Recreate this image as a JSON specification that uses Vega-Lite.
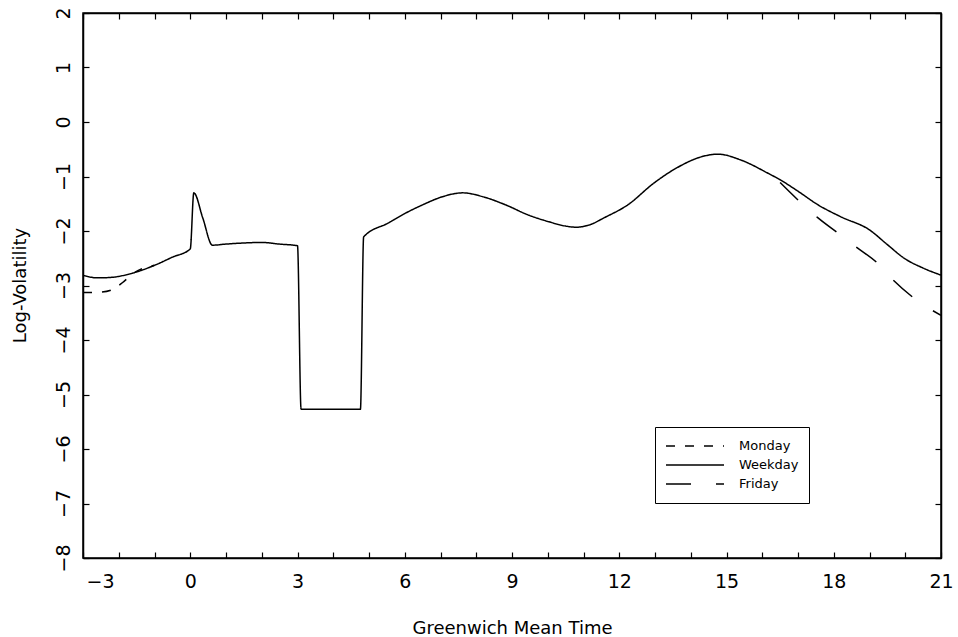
{
  "$schema": "https://vega.github.io/schema/vega-lite/v6.json",
  "width": 858,
  "height": 545,
  "autosize": {"type": "none"},
  "padding": {"left": 83, "top": 13, "right": 17, "bottom": 79},
  "background": "white",
  "config": {
    "view": {"stroke": "black", "strokeWidth": 1.5},
    "font": "DejaVu Sans",
    "axis": {
      "domainColor": "black",
      "domainWidth": 1.5,
      "tickColor": "black",
      "tickWidth": 1.2,
      "tickSize": -6,
      "grid": false,
      "labelColor": "black",
      "labelFont": "DejaVu Sans",
      "labelFontSize": 19,
      "labelOverlap": false,
      "labelFlush": false,
      "titleColor": "black",
      "titleFont": "DejaVu Sans",
      "titleFontSize": 18,
      "titleFontWeight": "normal"
    }
  },
  "data": {
    "values": [
      {"t": -3.0, "v": -2.81, "s": "Weekday"},
      {"t": -2.6, "v": -2.86, "s": "Weekday"},
      {"t": -2.2, "v": -2.85, "s": "Weekday"},
      {"t": -1.6, "v": -2.77, "s": "Weekday"},
      {"t": -1.0, "v": -2.63, "s": "Weekday"},
      {"t": -0.5, "v": -2.48, "s": "Weekday"},
      {"t": 0.0, "v": -2.33, "s": "Weekday"},
      {"t": 0.1, "v": -1.30, "s": "Weekday"},
      {"t": 0.35, "v": -1.76, "s": "Weekday"},
      {"t": 0.62, "v": -2.26, "s": "Weekday"},
      {"t": 1.0, "v": -2.24, "s": "Weekday"},
      {"t": 1.5, "v": -2.22, "s": "Weekday"},
      {"t": 2.0, "v": -2.21, "s": "Weekday"},
      {"t": 2.5, "v": -2.24, "s": "Weekday"},
      {"t": 3.0, "v": -2.27, "s": "Weekday"},
      {"t": 3.1, "v": -5.27, "s": "Weekday"},
      {"t": 4.76, "v": -5.27, "s": "Weekday"},
      {"t": 4.85, "v": -2.11, "s": "Weekday"},
      {"t": 5.55, "v": -1.85, "s": "Weekday"},
      {"t": 6.0, "v": -1.68, "s": "Weekday"},
      {"t": 6.5, "v": -1.52, "s": "Weekday"},
      {"t": 7.06, "v": -1.37, "s": "Weekday"},
      {"t": 7.62, "v": -1.30, "s": "Weekday"},
      {"t": 8.18, "v": -1.37, "s": "Weekday"},
      {"t": 8.82, "v": -1.52, "s": "Weekday"},
      {"t": 9.47, "v": -1.71, "s": "Weekday"},
      {"t": 10.03, "v": -1.83, "s": "Weekday"},
      {"t": 10.5, "v": -1.91, "s": "Weekday"},
      {"t": 10.8, "v": -1.93, "s": "Weekday"},
      {"t": 11.2, "v": -1.88, "s": "Weekday"},
      {"t": 11.57, "v": -1.76, "s": "Weekday"},
      {"t": 12.24, "v": -1.52, "s": "Weekday"},
      {"t": 12.97, "v": -1.12, "s": "Weekday"},
      {"t": 13.64, "v": -0.83, "s": "Weekday"},
      {"t": 14.29, "v": -0.64, "s": "Weekday"},
      {"t": 14.76, "v": -0.59, "s": "Weekday"},
      {"t": 15.41, "v": -0.70, "s": "Weekday"},
      {"t": 16.16, "v": -0.94, "s": "Weekday"},
      {"t": 16.5, "v": -1.06, "s": "Weekday"},
      {"t": 17.0, "v": -1.27, "s": "Weekday"},
      {"t": 17.56, "v": -1.52, "s": "Weekday"},
      {"t": 18.2, "v": -1.74, "s": "Weekday"},
      {"t": 19.0, "v": -1.98, "s": "Weekday"},
      {"t": 19.5, "v": -2.25, "s": "Weekday"},
      {"t": 19.97, "v": -2.50, "s": "Weekday"},
      {"t": 20.5, "v": -2.68, "s": "Weekday"},
      {"t": 21.0, "v": -2.81, "s": "Weekday"},
      {"t": -3.0, "v": -3.13, "s": "Monday"},
      {"t": -2.5, "v": -3.12, "s": "Monday"},
      {"t": -2.2, "v": -3.08, "s": "Monday"},
      {"t": -1.9, "v": -2.95, "s": "Monday"},
      {"t": -1.6, "v": -2.78, "s": "Monday"},
      {"t": -1.0, "v": -2.63, "s": "Monday"},
      {"t": 16.5, "v": -1.11, "s": "Friday"},
      {"t": 17.0, "v": -1.43, "s": "Friday"},
      {"t": 17.56, "v": -1.76, "s": "Friday"},
      {"t": 18.12, "v": -2.04, "s": "Friday"},
      {"t": 18.66, "v": -2.31, "s": "Friday"},
      {"t": 19.19, "v": -2.57, "s": "Friday"},
      {"t": 19.66, "v": -2.90, "s": "Friday"},
      {"t": 20.2, "v": -3.21, "s": "Friday"},
      {"t": 21.0, "v": -3.55, "s": "Friday"}
    ]
  },
  "layer": [
    {
      "mark": {"type": "line", "color": "black", "strokeWidth": 1.5, "interpolate": "monotone", "clip": true},
      "encoding": {
        "x": {
          "field": "t", "type": "quantitative",
          "scale": {"domain": [-3, 21], "nice": false, "zero": false},
          "axis": {
            "orient": "bottom",
            "values": [-3,-2,-1,0,1,2,3,4,5,6,7,8,9,10,11,12,13,14,15,16,17,18,19,20,21],
            "format": "d",
            "labelExpr": "datum.value % 3 === 0 ? datum.label : ''",
            "labelPadding": 20,
            "labelOffset": {"condition": {"test": "datum.value == -3", "value": 17}, "value": 0},
            "title": "Greenwich Mean Time",
            "titleY": 75,
            "titleBaseline": "alphabetic"
          }
        },
        "y": {
          "field": "v", "type": "quantitative",
          "scale": {"domain": [-8, 2], "nice": false, "zero": false},
          "axis": {
            "orient": "left",
            "values": [-8,-7,-6,-5,-4,-3,-2,-1,0,1,2],
            "format": "d",
            "labelAngle": -90,
            "labelAlign": "center",
            "labelBaseline": "middle",
            "labelPadding": 26,
            "title": "Log-Volatility",
            "titleX": -58,
            "titleY": 272,
            "titleAngle": -90,
            "titleAlign": "center",
            "titleBaseline": "alphabetic"
          }
        },
        "strokeDash": {
          "field": "s", "type": "nominal",
          "scale": {"domain": ["Monday", "Weekday", "Friday"], "range": [[9, 10], [1, 0], [25, 25]]},
          "legend": {
            "title": null,
            "orient": "none",
            "legendX": 572,
            "legendY": 414,
            "padding": 10,
            "strokeColor": "black",
            "fillColor": "white",
            "symbolType": "stroke",
            "symbolSize": 3364,
            "symbolStrokeWidth": 1.3,
            "symbolStrokeColor": "black",
            "clipHeight": 18,
            "rowPadding": 1,
            "labelOffset": 14,
            "labelFont": "DejaVu Sans",
            "labelFontSize": 13,
            "labelColor": "black"
          }
        }
      }
    },
    {
      "mark": {"type": "line", "opacity": 0},
      "encoding": {
        "x": {
          "field": "t", "type": "quantitative",
          "axis": {
            "orient": "top",
            "values": [-3,-2,-1,0,1,2,3,4,5,6,7,8,9,10,11,12,13,14,15,16,17,18,19,20,21],
            "labels": false,
            "title": null
          }
        },
        "y": {
          "field": "v", "type": "quantitative",
          "axis": {
            "orient": "right",
            "values": [-8,-7,-6,-5,-4,-3,-2,-1,0,1,2],
            "labels": false,
            "title": null
          }
        }
      }
    }
  ],
  "resolve": {"axis": {"x": "independent", "y": "independent"}}
}
